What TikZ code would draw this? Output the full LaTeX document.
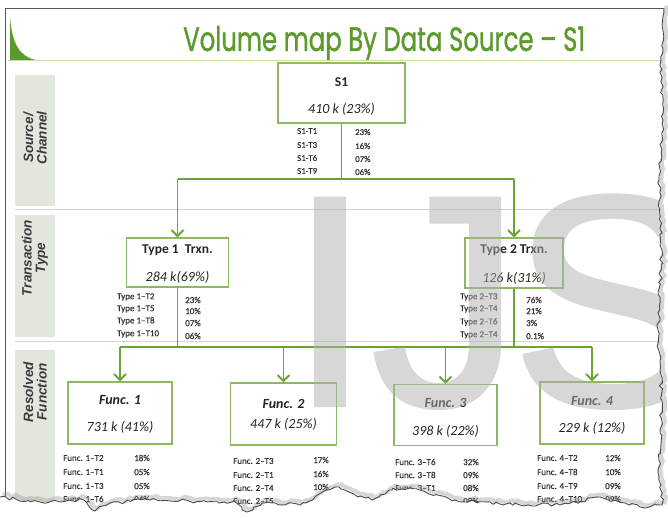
\documentclass[tikz,border=0pt]{standalone}
\usepackage{fontspec}
\usepackage{graphicx}
\setmainfont{Carlito}
\newfontfamily\titlefont[FakeBold=1.2]{Poppins}
\newfontfamily\labfont{Liberation Sans}
\newfontfamily\wmfont[FakeBold=1.4]{Liberation Sans}
\newfontfamily\tblfont[FakeBold=0.4]{Carlito}
\usetikzlibrary{arrows.meta,decorations.pathmorphing}
\definecolor{linegreen}{HTML}{6AA434}
\definecolor{boxgreen}{HTML}{8DBA5E}
\definecolor{titlegreen}{HTML}{5C9A2C}
\definecolor{titleline}{HTML}{C9DDA6}
\definecolor{labfill}{HTML}{E1E7DC}
\definecolor{sepgray}{HTML}{D4D4D4}
\definecolor{framegray}{HTML}{555555}
\definecolor{txtdark}{HTML}{262626}
\definecolor{tbltext}{HTML}{333333}
\definecolor{labtext}{HTML}{3A3A3A}
\definecolor{wmgray}{HTML}{B0B0B0}
\tikzset{
  box/.style={draw=boxgreen, line width=1.3pt, fill=white, inner sep=0pt},
  btxt/.style={inner sep=0pt, text=txtdark, font=\fontsize{13.5}{15}\selectfont},
  tbl/.style={anchor=west, inner sep=0pt, text=tbltext, font=\tblfont\fontsize{8.8}{10}\selectfont},
  ftbl/.style={anchor=west, inner sep=0pt, text=tbltext, font=\tblfont\fontsize{9}{10}\selectfont},
  conn/.style={draw=linegreen, line width=1.9pt},
  arr/.style={conn, -{Straight Barb[length=6pt,width=12pt]}},
  lab/.style={rotate=90, align=center, inner sep=0pt, text=labtext,
              font=\labfont\bfseries\itshape\fontsize{13.5}{13.5}\selectfont},
  wm/.style={anchor=base west, inner sep=0pt, text=wmgray,
             font=\wmfont\fontsize{300}{300}\selectfont},
  tornedge/.style={insert path={decorate[decoration={random steps,segment length=4pt,amplitude=1.8pt}]{
     -- (661,60) -- (663,120) -- (659,180) -- (662,250) -- (658,330) -- (662,400) -- (659,460) -- (662,505)
     -- (640,507) -- (600,497) -- (560,505) -- (500,504) -- (455,500) -- (410,488) -- (392,490)
     -- (372,500) -- (335,487) -- (300,505) -- (262,503) -- (247,512) -- (232,502) -- (150,500)
     -- (110,503) -- (95,511) -- (84,500) -- (40,502) -- (0,497)}}}
}
\begin{document}
\begin{tikzpicture}[x=1pt,y=-1pt]
\useasboundingbox (0,0) rectangle (668,518);
\fill[white] (0,0) rectangle (668,518);

% frame and title bar
\draw[framegray, line width=0.8pt] (5,8) -- (664,8);
\draw[framegray, line width=0.8pt] (5,8) -- (5,505);
\fill[titlegreen] (10,17) .. controls (12,44) and (20,57) .. (36,60) -- (10,60) -- cycle;
\draw[titleline, line width=1.5pt] (8,60.5) -- (664,60.5);
\node[anchor=base west, inner sep=0pt, text=titlegreen] (title) at (183,51)
  {\resizebox{402pt}{25pt}{\titlefont Volume map By Data Source – S1}};

% row label panels
\fill[labfill] (15,75) rectangle (55,206);
\fill[labfill] (15,215) rectangle (55,337);
\fill[labfill] (15,350) rectangle (55,505);
\node[lab] (labA) at (35,138) {Source/\\Channel};
\node[lab] (labB) at (35,258) {Transaction\\Type};
\node[lab] (labC) at (35,392) {Resolved\\Function};
\draw[sepgray, line width=1pt] (15,209.5) -- (664,209.5);
\draw[sepgray, line width=1pt] (15,341) -- (664,341);

% level 1
\node[box, minimum width=127pt, minimum height=60pt] (s1) at (341.5,93) {};
\node[btxt, font=\bfseries\fontsize{13.5}{15}\selectfont] (s1a) at (341.5,82) {S1};
\node[btxt, font=\itshape\fontsize{14}{15}\selectfont] (s1b) at (341.5,109) {410 k (23\%)};
\node[tbl] (s1r1) at (297,131) {S1-T1};
\node[tbl] (s1r2) at (297,145) {S1-T3};
\node[tbl] (s1r3) at (297,158) {S1-T6};
\node[tbl] (s1r4) at (297,171) {S1-T9};
\node[tbl] (s1p1) at (355,132) {23\%};
\node[tbl] (s1p2) at (355,146) {16\%};
\node[tbl] (s1p3) at (355,159) {07\%};
\node[tbl] (s1p4) at (355,172) {06\%};

% level 2
\node[box, minimum width=102pt, minimum height=49pt] (t1) at (177.5,262.5) {};
\node[btxt, font=\bfseries\fontsize{13.5}{15}\selectfont] (t1a) at (177.5,250) {Type 1\ \ Trxn.};
\node[btxt, font=\itshape\fontsize{14}{15}\selectfont] (t1b) at (177.5,277) {284 k(69\%)};
\node[box, minimum width=98pt, minimum height=50pt] (t2) at (514,263) {};
\node[btxt, font=\bfseries\fontsize{13.5}{15}\selectfont] (t2a) at (514,250) {Type 2 Trxn.};
\node[btxt, font=\itshape\fontsize{14}{15}\selectfont] (t2b) at (514,278) {126 k(31\%)};

\node[ftbl] (t1r1) at (117,297) {Type 1–T2};
\node[ftbl] (t1r2) at (117,309) {Type 1–T5};
\node[ftbl] (t1r3) at (117,321) {Type 1–T8};
\node[ftbl] (t1r4) at (117,334) {Type 1–T10};
\node[ftbl] (t1p1) at (185,300) {23\%};
\node[ftbl] (t1p2) at (185,311) {10\%};
\node[ftbl] (t1p3) at (185,323) {07\%};
\node[ftbl] (t1p4) at (185,336) {06\%};

\node[ftbl] (t2r1) at (460,297) {Type 2–T3};
\node[ftbl] (t2r2) at (460,309) {Type 2–T4};
\node[ftbl] (t2r3) at (460,322) {Type 2–T6};
\node[ftbl] (t2r4) at (460,335) {Type 2–T4};
\node[ftbl] (t2p1) at (526,300) {76\%};
\node[ftbl] (t2p2) at (526,311) {21\%};
\node[ftbl] (t2p3) at (526,323) {3\%};
\node[ftbl] (t2p4) at (526,336) {0.1\%};

% level 3
\node[box, minimum width=104pt, minimum height=62pt] (f1) at (120,413) {};
\node[btxt, font=\bfseries\itshape\fontsize{14}{15}\selectfont] (f1a) at (120,400) {Func. 1};
\node[btxt, font=\itshape\fontsize{14}{15}\selectfont] (f1b) at (120,427) {731 k (41\%)};
\node[box, minimum width=106pt, minimum height=62pt] (f2) at (283.5,414) {};
\node[btxt, font=\bfseries\itshape\fontsize{14}{15}\selectfont] (f2a) at (283.5,404) {Func. 2};
\node[btxt, font=\itshape\fontsize{14}{15}\selectfont] (f2b) at (283.5,424) {447 k (25\%)};
\node[box, minimum width=103pt, minimum height=61pt] (f3) at (445.5,415) {};
\node[btxt, font=\bfseries\itshape\fontsize{14}{15}\selectfont] (f3a) at (445.5,403) {Func. 3};
\node[btxt, font=\itshape\fontsize{14}{15}\selectfont] (f3b) at (445.5,431) {398 k (22\%)};
\node[box, minimum width=104pt, minimum height=62pt] (f4) at (592,413) {};
\node[btxt, font=\bfseries\itshape\fontsize{14}{15}\selectfont] (f4a) at (592,401) {Func. 4};
\node[btxt, font=\itshape\fontsize{14}{15}\selectfont] (f4b) at (592,428) {229 k (12\%)};

\node[ftbl] (f1r1) at (63,458) {Func. 1–T2};
\node[ftbl] (f1r2) at (63,472) {Func. 1–T1};
\node[ftbl] (f1r3) at (63,486) {Func. 1–T3};
\node[ftbl] (f1r4) at (63,499) {Func. 1–T6};
\node[ftbl] (f1p1) at (134,458) {18\%};
\node[ftbl] (f1p2) at (134,472) {05\%};
\node[ftbl] (f1p3) at (134,486) {05\%};
\node[ftbl] (f1p4) at (134,499) {04\%};

\node[ftbl] (f2r1) at (233,461) {Func. 2–T3};
\node[ftbl] (f2r2) at (233,475) {Func. 2–T1};
\node[ftbl] (f2r3) at (233,488) {Func. 2–T4};
\node[ftbl] (f2r4) at (233,501) {Func. 2–T5};
\node[ftbl] (f2p1) at (313,460) {17\%};
\node[ftbl] (f2p2) at (313,474) {16\%};
\node[ftbl] (f2p3) at (313,487) {10\%};
\node[ftbl] (f2p4) at (313,500) {08\%};

\node[ftbl] (f3r1) at (395,462) {Func. 3–T6};
\node[ftbl] (f3r2) at (395,475) {Func. 3–T8};
\node[ftbl] (f3r3) at (395,488) {Func. 3–T1};
\node[ftbl] (f3r4) at (395,501) {Func. 3–T5};
\node[ftbl] (f3p1) at (463,462) {32\%};
\node[ftbl] (f3p2) at (463,475) {09\%};
\node[ftbl] (f3p3) at (463,488) {08\%};
\node[ftbl] (f3p4) at (463,501) {08\%};

\node[ftbl] (f4r1) at (537,458) {Func. 4–T2};
\node[ftbl] (f4r2) at (537,472) {Func. 4–T8};
\node[ftbl] (f4r3) at (537,486) {Func. 4–T9};
\node[ftbl] (f4r4) at (537,499) {Func. 4–T10};
\node[ftbl] (f4p1) at (605,458) {12\%};
\node[ftbl] (f4p2) at (605,472) {10\%};
\node[ftbl] (f4p3) at (605,486) {09\%};
\node[ftbl] (f4p4) at (605,499) {09\%};

% connectors level 1 -> 2
\coordinate (j1) at (341.5,179);
\draw[conn] (s1.south) -- (j1);
\draw[conn] (t1.north |- j1) -- (t2.north |- j1);
\draw[arr] (t1.north |- j1) -- (t1.north);
\draw[arr] (t2.north |- j1) -- (t2.north);

% connectors level 2 -> 3
\coordinate (k) at (0,347);
\draw[conn] (t1.south) -- (t1.south |- k);
\draw[conn] (t2.south) -- (t2.south |- k);
\draw[conn] (f1.north |- k) -- (f4.north |- k);
\draw[arr] (f1.north |- k) -- (f1.north);
\draw[arr] (f2.north |- k) -- (f2.north);
\draw[arr] (f3.north |- k) -- (f3.north);
\draw[arr] (f4.north |- k) -- (f4.north);

% watermark
\begin{scope}[transparency group, opacity=0.5]
\node[wm] (wI) at (288,405) {I};
\node[wm] (wJ) at (371,405) {J};
\node[wm] (wS) at (511,405) {S};
\end{scope}

% torn paper edge
\pgfmathsetseed{11}
\fill[white] (690,-10) -- (664,-10) -- (664,8) [tornedge] -- (-10,497) -- (-10,540) -- (690,540) -- cycle;
\pgfmathsetseed{11}
\draw[black!45, line width=4pt, opacity=0.35, shift={(2.5,-2.5)}] (664,8) [tornedge];
\pgfmathsetseed{11}
\draw[black!70, line width=0.9pt] (664,8) [tornedge];
\end{tikzpicture}
\end{document}
